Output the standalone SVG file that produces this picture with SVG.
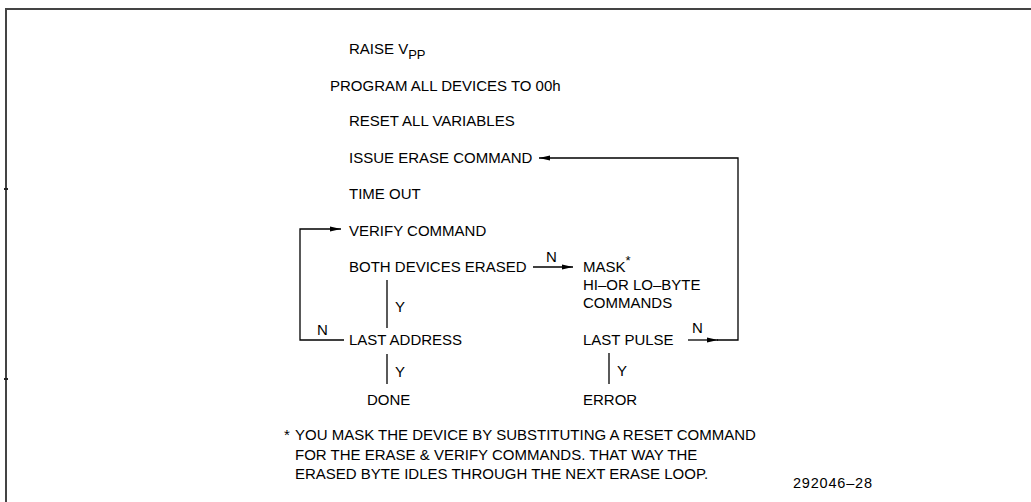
<svg xmlns="http://www.w3.org/2000/svg" width="1031" height="502" viewBox="0 0 1031 502">
<style>
  text { font-family: "Liberation Sans", Arial, sans-serif; fill: #000; }
  .t { font-size: 15px; }
  .lab { font-size: 15px; }
  .fn { font-size: 15px; }
  .sub { font-size: 13px; }
  .id { font-size: 14.5px; letter-spacing: 0.8px; }
  .ln { fill: none; stroke: #000; stroke-width: 1.3; }
  .frame { fill: none; stroke: #444; stroke-width: 2; }
</style>
<defs>
  <marker id="ah" markerUnits="userSpaceOnUse" markerWidth="12" markerHeight="8" refX="11" refY="4" orient="auto">
    <path d="M0,1.5 L11,4 L0,6.5 Z" fill="#000"/>
  </marker>
</defs>
<rect width="1031" height="502" fill="#fff"/>
<g id="frame">
  <path class="frame" d="M6,502 L6,9 L1031,9"/>
  <path d="M4,189 L8,189 M4,379 L8,379" stroke="#222" stroke-width="2"/>
</g>
<g id="raise"><text class="t" x="349" y="54">RAISE V<tspan class="sub" dy="5">PP</tspan></text></g>
<g id="program"><text class="t" x="330" y="91">PROGRAM ALL DEVICES TO 00h</text></g>
<g id="reset"><text class="t" x="349" y="126">RESET ALL VARIABLES</text></g>
<g id="issue"><text class="t" x="349" y="163">ISSUE ERASE COMMAND</text></g>
<g id="timeout"><text class="t" x="349" y="199">TIME OUT</text></g>
<g id="verify"><text class="t" x="349" y="236">VERIFY COMMAND</text></g>
<g id="both"><text class="t" x="349" y="272">BOTH DEVICES ERASED</text></g>
<g id="mask">
  <text class="t" x="583" y="272">MASK<tspan class="sub" dy="-7">*</tspan></text>
  <text class="t" x="583" y="290">HI–OR LO–BYTE</text>
  <text class="t" x="583" y="308">COMMANDS</text>
</g>
<g id="lastaddr"><text class="t" x="349" y="345">LAST ADDRESS</text></g>
<g id="lastpulse"><text class="t" x="583" y="345">LAST PULSE</text></g>
<g id="done"><text class="t" x="367" y="405">DONE</text></g>
<g id="error"><text class="t" x="583" y="405">ERROR</text></g>
<g id="connectors">
  <path class="ln" d="M533,267 L573,267" marker-end="url(#ah)"/>
  <text class="lab" x="546" y="262">N</text>
  <path class="ln" d="M387,280 L387,328"/>
  <text class="lab" x="395" y="312">Y</text>
  <path class="ln" d="M344,340 L300,340 L300,229 L341,229" marker-end="url(#ah)"/>
  <text class="lab" x="317" y="335">N</text>
  <path class="ln" d="M387,354 L387,384"/>
  <text class="lab" x="395" y="377">Y</text>
  <path class="ln" d="M609,353 L609,384"/>
  <text class="lab" x="617" y="376">Y</text>
  <path class="ln" d="M688,340 L718,340" marker-end="url(#ah)"/>
  <path class="ln" d="M717,340 L738,340 L738,158 L539,158" marker-end="url(#ah)"/>
  <text class="lab" x="692" y="333">N</text>
</g>
<g id="footnote">
  <text class="fn" x="284" y="440">*</text>
  <text class="fn" x="295" y="440">YOU MASK THE DEVICE BY SUBSTITUTING A RESET COMMAND</text>
  <text class="fn" x="295" y="459.5">FOR THE ERASE &amp; VERIFY COMMANDS. THAT WAY THE</text>
  <text class="fn" x="295" y="479">ERASED BYTE IDLES THROUGH THE NEXT ERASE LOOP.</text>
</g>
<g id="figid"><text class="id" x="793" y="488">292046–28</text></g>
</svg>
